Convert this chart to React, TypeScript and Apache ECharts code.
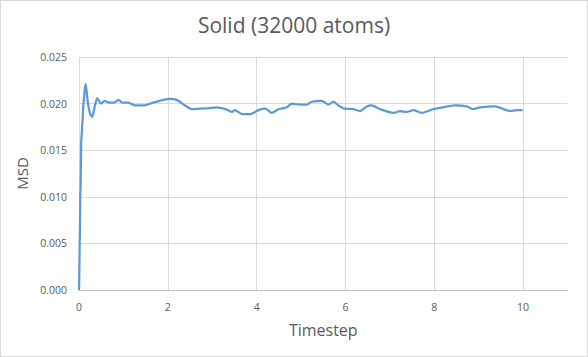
import React, { useEffect, useRef } from "react";
import * as echarts from "echarts";

const title = "Solid (32000 atoms)";
const xName = "Timestep";
const yName = "MSD";

const timestep: number[] = [
  0, 0.005, 0.015, 0.02, 0.03, 0.035, 0.05, 0.055, 0.083, 0.095, 0.12, 0.145, 0.165,
  0.2, 0.25, 0.3, 0.35, 0.41, 0.45, 0.49, 0.58, 0.675, 0.79, 0.885, 0.975, 1.11,
  1.26, 1.45, 1.67, 1.9, 2.05, 2.2, 2.39, 2.54, 2.72, 2.9, 3.1, 3.3, 3.44, 3.51,
  3.66, 3.85, 4.04, 4.19, 4.34, 4.49, 4.68, 4.79, 4.98, 5.13, 5.24, 5.47, 5.61,
  5.73, 5.84, 5.99, 6.18, 6.33, 6.48, 6.59, 6.78, 7.08, 7.23, 7.38, 7.53, 7.72,
  7.98, 8.2, 8.47, 8.73, 8.88, 9.03, 9.37, 9.56, 9.71, 9.86, 9.99,
];

const msd: number[] = [
  0, 0.0011, 0.005, 0.0061, 0.0105, 0.0108, 0.016, 0.0163, 0.0185, 0.0197, 0.021,
  0.0221, 0.0216, 0.0201, 0.0189, 0.01857, 0.0196, 0.0206, 0.0203, 0.02, 0.0203,
  0.0201, 0.0201, 0.0204, 0.0201, 0.0201, 0.0198, 0.0198, 0.0201, 0.0204, 0.0205,
  0.0204, 0.0198, 0.0194, 0.01946, 0.0195, 0.0196, 0.0194, 0.0191, 0.0193, 0.0189,
  0.01886, 0.0193, 0.0195, 0.019, 0.0194, 0.0196, 0.02, 0.0199, 0.0199, 0.0202,
  0.0203, 0.0199, 0.0202, 0.0198, 0.01946, 0.0194, 0.0192, 0.0197, 0.0198, 0.0194,
  0.019, 0.0192, 0.0191, 0.0193, 0.019, 0.0194, 0.0196, 0.0198, 0.0197, 0.0194,
  0.0196, 0.0197, 0.0194, 0.0192, 0.0193, 0.0193,
];

const xMin = 0;
const xMax = 11;
const xInterval = 2;
const yMin = 0;
const yMax = 0.025;
const yInterval = 0.005;

export default function App() {
  const ref = useRef<HTMLDivElement>(null);
  useEffect(() => {
    document.body.style.margin = "0";
    if (!ref.current) return;
    const chart = echarts.init(ref.current, undefined, { renderer: "svg" });
    const font = "'Open Sans', 'Noto Sans', sans-serif";
    const grey = "#595959";
    chart.setOption({
      animation: false,
      backgroundColor: "#ffffff",
      title: {
        text: title,
        left: "center",
        top: 9,
        textStyle: { fontFamily: font, fontSize: 21, fontWeight: "normal", color: grey },
      },
      grid: { left: 79, right: 20.5, top: 57, bottom: 67 },
      xAxis: {
        type: "value",
        min: xMin,
        max: xMax,
        interval: xInterval,
        name: xName,
        nameLocation: "middle",
        nameGap: 32,
        nameTextStyle: { fontFamily: font, fontSize: 16, color: grey },
        axisLine: { show: true, lineStyle: { color: "#BFBFBF", width: 1 } },
        axisTick: { show: false },
        axisLabel: {
          fontFamily: font,
          fontSize: 10.5,
          color: grey,
          margin: 11,
          showMaxLabel: false,
          formatter: (v: number) => (v === xMax ? "" : String(v)),
        },
        splitLine: { show: true, showMaxLine: false, lineStyle: { color: "#D9D9D9", width: 1 } },
      },
      yAxis: {
        type: "value",
        min: yMin,
        max: yMax,
        interval: yInterval,
        name: yName,
        nameLocation: "middle",
        nameGap: 44,
        nameTextStyle: { fontFamily: font, fontSize: 15, color: grey },
        axisLine: { show: false },
        axisTick: { show: false },
        axisLabel: {
          fontFamily: font,
          fontSize: 10.5,
          color: grey,
          margin: 12,
          formatter: (v: number) => v.toFixed(3),
        },
        splitLine: { show: true, lineStyle: { color: "#D9D9D9", width: 1 } },
      },
      series: [
        {
          type: "line",
          data: timestep.map((t, i) => [t, msd[i]]),
          showSymbol: false,
          smooth: 0.2,
          lineStyle: { color: "#5B9BD5", width: 2.25 },
          itemStyle: { color: "#5B9BD5" },
        },
      ],
    });
    return () => chart.dispose();
  }, []);
  return (
    <div style={{ position: "relative", width: 588, height: 357 }}>
      <div ref={ref} style={{ width: 588, height: 357 }} />
      <div
        style={{
          position: "absolute",
          left: 0,
          top: 0,
          width: 588,
          height: 357,
          boxSizing: "border-box",
          border: "1px solid #D9D9D9",
          pointerEvents: "none",
        }}
      />
    </div>
  );
}
